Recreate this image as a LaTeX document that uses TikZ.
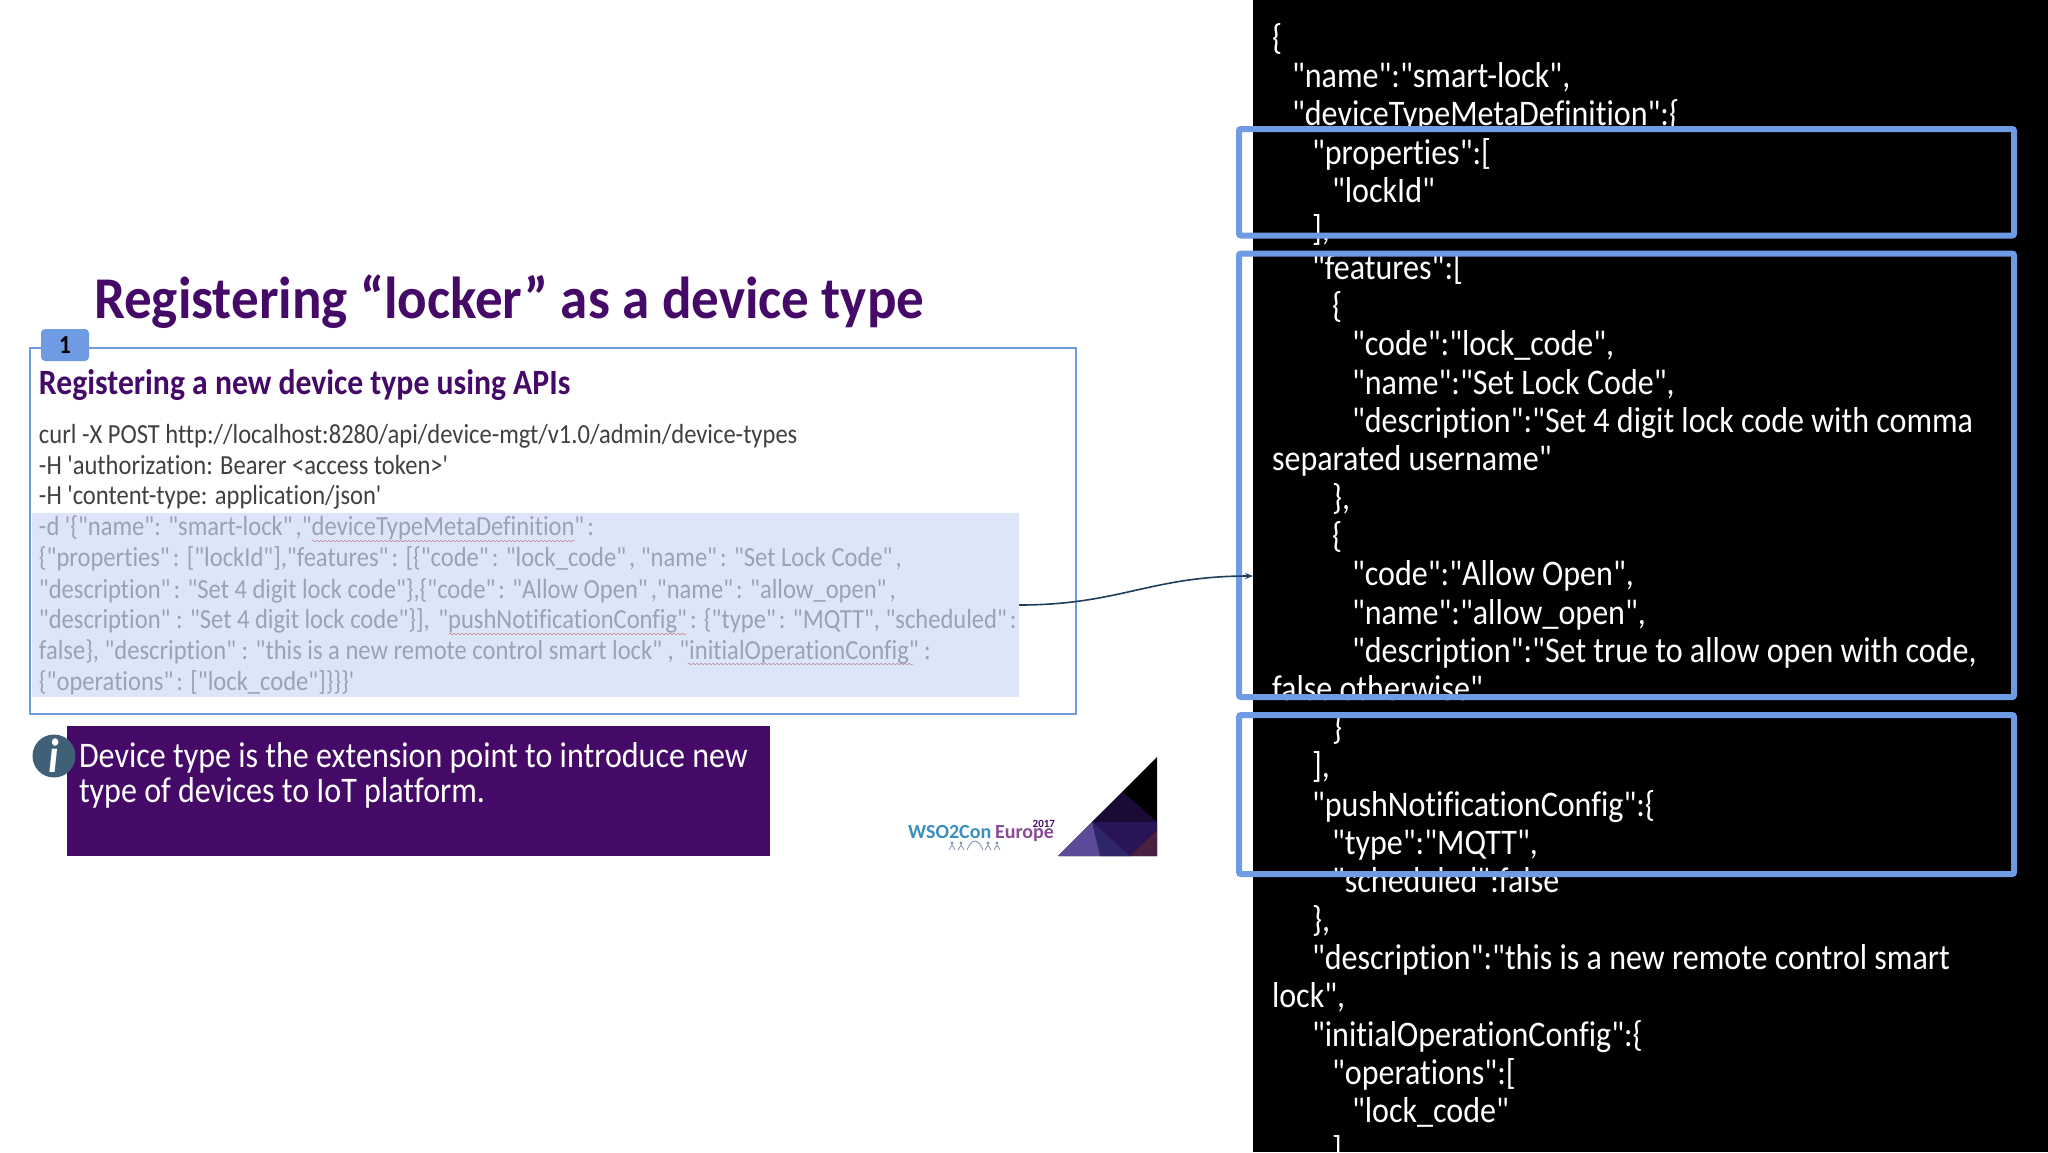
\documentclass[tikz,border=0pt]{standalone}
\usepackage{fontspec}
\setmainfont{Carlito}[Ligatures={TeXOff,NoCommon},FakeStretch=0.89]
\newfontfamily\titlefont{Carlito}[Ligatures={TeXOff,NoCommon},FakeStretch=0.93]
\newfontfamily\logofont{Carlito}[Ligatures={TeXOff,NoCommon}]
\newcommand{\qk}{\kern0.11em}
\usetikzlibrary{arrows.meta,decorations.pathmorphing}
\definecolor{deep}{HTML}{450A67}
\definecolor{frameblue}{HTML}{6E9BE3}
\definecolor{hlfill}{HTML}{DDE6F9}
\definecolor{hltext}{HTML}{9AA3B5}
\definecolor{bodytext}{HTML}{404040}
\definecolor{linkcol}{HTML}{1F3D5C}
\definecolor{infocol}{HTML}{3F6077}
\definecolor{logoblue}{HTML}{3A8FC0}
\definecolor{logopurple}{HTML}{8A4A96}
\definecolor{logoman}{HTML}{7F8FB0}
\definecolor{facetA}{HTML}{1A0A35}
\definecolor{facetB}{HTML}{2A1458}
\definecolor{facetC}{HTML}{2E2668}
\definecolor{facetD}{HTML}{5A4A98}
\definecolor{facetE}{HTML}{4A2040}
\tikzset{
  x=0.5pt,y=-0.5pt,
  every node/.style={inner sep=0pt,outer sep=0pt},
  txt/.style={anchor=base west,font=\fontsize{13.8}{16}\selectfont,text=bodytext},
  hl/.style={anchor=base west,font=\fontsize{13.8}{16}\selectfont,text=hltext},
  js/.style={anchor=base west,font=\fontsize{18}{21}\selectfont,text=white},
  note/.style={anchor=base west,font=\fontsize{18}{21}\selectfont,text=white},
  jbox/.style={draw=frameblue,line width=3pt,rounded corners=1pt},
  squig/.style={draw=red!35!hltext,line width=0.2pt,decorate,decoration={snake,amplitude=0.35pt,segment length=2pt}},
  man/.style={draw=logoman,line width=0.4pt},
}
\begin{document}
\begin{tikzpicture}
\useasboundingbox (0,0) rectangle (2048,1152);
\node[fill=white,minimum width=1024pt,minimum height=576pt,anchor=north west] (bg) at (0,0) {};
\node[fill=black,minimum width=397.5pt,minimum height=576pt,anchor=north west] (panel) at (1253,0) {};

% title
\node[anchor=base west,font=\titlefont\fontsize{29.6}{32}\selectfont\bfseries,text=deep] (title) at (94,318) {Registering “locker” as a device type};

% main frame
\node[draw=frameblue,line width=1pt,minimum width=523pt,minimum height=183pt,anchor=north west] (frame) at (30,348) {};
\node[fill=frameblue,rounded corners=2pt,minimum width=24pt,minimum height=16pt,anchor=north west,font=\fontsize{13}{14}\selectfont\bfseries,text=black] (tab) at (41,329) {1};
\node[anchor=base west,font=\fontsize{17.8}{20}\selectfont\bfseries,text=deep] (sub) at (39,394) {Registering a new device type using APIs};

\node[txt] (l1) at (39,443) {curl -X POST http://localhost:8280/api/device-mgt/v1.0/admin/device-types};
\node[txt] (l2) at (39,474) {-H 'authorization: Bearer <access token>'};
\node[txt] (l3) at (39,504) {-H 'content-type: application/json'};

\node[fill=hlfill,minimum width=493.5pt,minimum height=92pt,anchor=north west] (hlb) at (32,513) {};
\node[hl] (d1) at (39,535) {-d '\{"name": "smart-lock"\qk,"deviceTypeMetaDefinition"\qk:};
\node[hl] (d2) at (39,566) {\{"properties"\qk: ["lockId"],"features"\qk: [\{"code"\qk: "lock\_code"\qk, "name"\qk: "Set Lock Code"\qk,};
\node[hl] (d3) at (39,598) {"description"\qk: "Set 4 digit lock code"\},\{"code"\qk: "Allow Open"\qk,"name"\qk: "allow\_open"\qk,};
\node[hl] (d4) at (39,628) {"description" : "Set 4 digit lock code"\}],\kern1.5pt{} "pushNotificationConfig"\qk: \{"type"\qk: "MQTT", "scheduled"\qk:};
\node[hl] (d5) at (39,659) {false\}, "description" : "this is a new remote control smart lock" , "initialOperationConfig" :};
\node[hl] (d6) at (39,690) {\{"operations"\qk: ["lock\_code"]\}\}\}'};
\draw[squig] (312,541) -- (575,541);
\draw[squig] (449,634) -- (686,634);
\draw[squig] (688,664) -- (914,664);

% note
\node[fill=deep,minimum width=351.5pt,minimum height=65pt,anchor=north west] (notebox) at (67,726) {};
\node[note] (n1) at (79,767) {Device type is the extension point to introduce new};
\node[note] (n2) at (79,802) {type of devices to IoT platform.};
\node[circle,fill=infocol,minimum size=21.5pt,font=\fontsize{24}{24}\selectfont\bfseries\itshape,text=white] (info) at (54,756) {i};

% logo
\fill[black] (1157,757) -- (1157,856) -- (1058,856) -- cycle;
\fill[facetA] (1123,792) -- (1157,822) -- (1092,822) -- cycle;
\fill[facetB] (1092,822) -- (1157,822) -- (1157,830) -- (1130,856) -- (1100,856) -- cycle;
\fill[facetC] (1092,822) -- (1100,856) -- (1130,856) -- cycle;
\fill[facetD] (1058,856) -- (1092,822) -- (1100,856) -- cycle;
\fill[facetE] (1130,856) -- (1157,830) -- (1157,856) -- cycle;
\node[anchor=base west,font=\logofont\fontsize{10}{10}\selectfont\bfseries,text=logoblue] (wso) at (908,838) {WSO2Con};
\node[anchor=base west,font=\logofont\fontsize{10}{10}\selectfont\bfseries,text=logopurple] (eur) at (995,838) {Europe};
\node[anchor=base east,font=\logofont\fontsize{5.5}{5}\selectfont\bfseries,text=deep] (yr) at (1055,827) {2017};
\foreach \mx in {952,961,988,997}{
  \fill[logoman] (\mx,843) circle (1.6);
  \draw[man] (\mx-3,850) -- (\mx,845) -- (\mx+3,850);
}
\draw[man] (967,850) .. controls (972,838) and (978,838) .. (983,850);

% json
\foreach \t/\ix/\iy in {%
 {\{}/0/0,
 {"name":"smart-lock",}/1/1,
 {"deviceTypeMetaDefinition":\{}/1/2,
 {"properties":[}/2/3,
 {"lockId"}/3/4,
 {],}/2/5,
 {"features":[}/2/6,
 {\{}/3/7,
 {"code":"lock\_code",}/4/8,
 {"name":"Set Lock Code",}/4/9,
 {"description":"Set 4 digit lock code with comma}/4/10,
 {separated username"}/0/11,
 {\},}/3/12,
 {\{}/3/13,
 {"code":"Allow Open",}/4/14,
 {"name":"allow\_open",}/4/15,
 {"description":"Set true to allow open with code,}/4/16,
 {false otherwise"}/0/17,
 {\}}/3/18,
 {],}/2/19,
 {"pushNotificationConfig":\{}/2/20,
 {"type":"MQTT",}/3/21,
 {"scheduled":false}/3/22,
 {\},}/2/23,
 {"description":"this is a new remote control smart}/2/24,
 {lock",}/0/25,
 {"initialOperationConfig":\{}/2/26,
 {"operations":[}/3/27,
 {"lock\_code"}/4/28,
 {]}/3/29%
}{
 \node[js] (j\iy) at ({1272+20*\ix},{49+38.35*\iy}) {\t};
}

% highlight frames
\draw[jbox] (1239,129) rectangle (2014,235.5);
\draw[jbox] (1239,253.5) rectangle (2014,697);
\draw[jbox] (1239,715) rectangle (2014,874);

% connector
\draw[linkcol,line width=0.8pt,-{Stealth[length=4pt,width=3pt]}] (hlb.east) .. controls (1120,605) and (1150,576) .. (panel.west);
\end{tikzpicture}
\end{document}
